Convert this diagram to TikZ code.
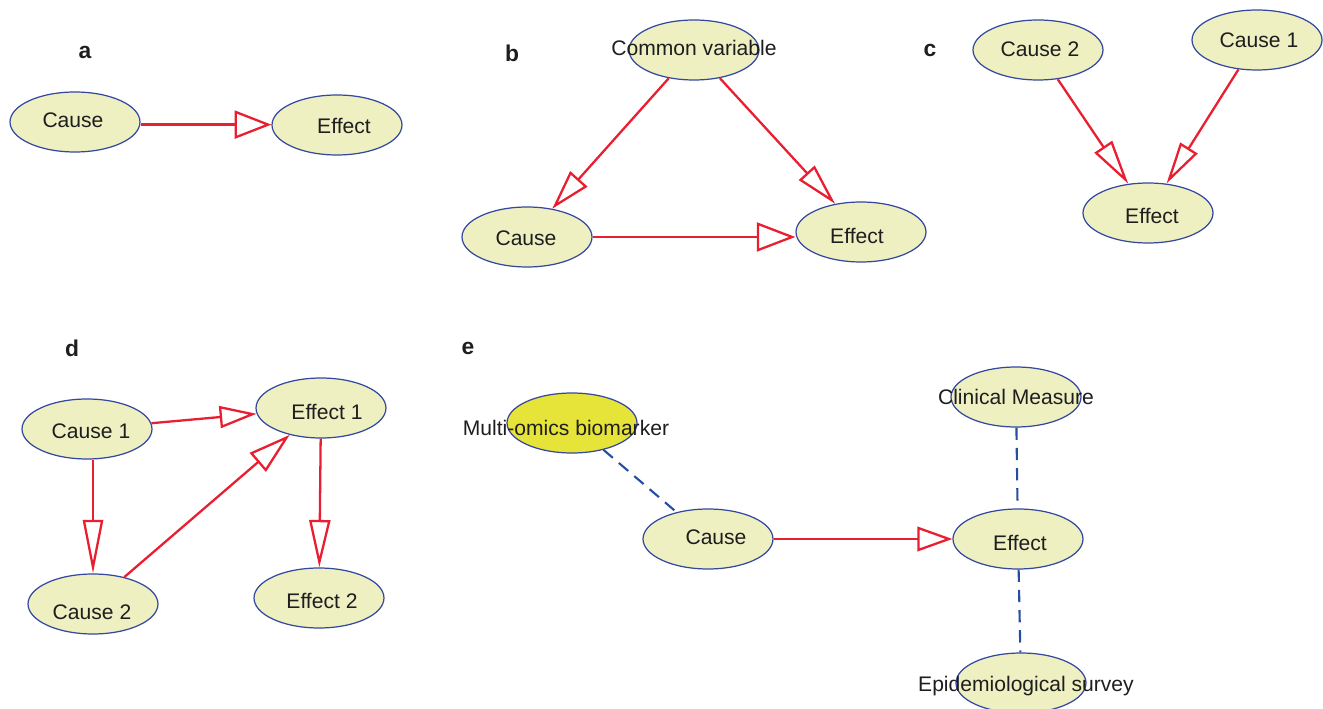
\documentclass[tikz,border=0pt]{standalone}
\usepackage{fontspec}
\setmainfont{Liberation Sans}
\usetikzlibrary{arrows.meta,shapes.geometric}
\definecolor{ellfill}{RGB}{238,240,194}
\definecolor{omfill}{RGB}{230,228,56}
\definecolor{ellline}{RGB}{52,72,160}
\definecolor{arrred}{RGB}{233,30,48}
\definecolor{dashblue}{RGB}{38,78,160}
\definecolor{txtcol}{RGB}{30,30,30}
\begin{document}
\begin{tikzpicture}[x=0.02cm,y=-0.02cm,
 ell/.style={ellipse,draw=ellline,fill=ellfill,line width=0.7pt,minimum width=2.6cm,minimum height=1.2cm,inner sep=0pt},
 lbl/.style={anchor=base,text=txtcol,font=\fontsize{12}{14}\selectfont,inner sep=0pt},
 panel/.style={text=txtcol,font=\fontsize{13}{15}\selectfont\bfseries,inner sep=0pt},
 rarr/.style 2 args={draw=arrred,line width=1.3pt,-{Triangle[open,length=#1,width=#2]}},
 dline/.style={draw=dashblue,line width=1.2pt,dash pattern=on 7pt off 4.5pt},
]
\useasboundingbox[fill=white] (0,0) rectangle (1323,709);

% panel a
\node[panel] (la) at (85,52) {a};
\node[ell] (aC) at (75,122) {};
\node[ell] (aE) at (337,125) {};
\node[lbl] (aCt) at (73,127.5) {Cause};
\node[lbl] (aEt) at (344,133.5) {Effect};
\draw[rarr={21pt}{16pt}] ([yshift=-1.5pt]aC.east) -- ([yshift=-1.5pt]aC.east -| aE.west);

% panel b
\node[panel] (lb) at (512,53) {b};
\node[ell] (bV) at (694,50) {};
\node[ell] (bC) at (527,237) {};
\node[ell] (bE) at (861,232) {};
\node[lbl] (bVt) at (694,55.5) {Common variable};
\node[lbl] (bCt) at (526,245.5) {Cause};
\node[lbl] (bEt) at (857,243.5) {Effect};
\draw[rarr={22.8pt}{13pt}] (bV) -- (bC);
\draw[rarr={24pt}{12pt}] (bV) -- (bE);
\draw[rarr={22pt}{16.5pt}] (bC.east) -- (bC.east -| bE.west);

% panel c
\node[panel] (lc) at (930,50) {c};
\node[ell] (cC2) at (1038,50) {};
\node[ell] (cC1) at (1257,40) {};
\node[ell] (cE) at (1148,213) {};
\node[lbl] (cC2t) at (1040,56.5) {Cause 2};
\node[lbl] (cC1t) at (1259,47.5) {Cause 1};
\node[lbl] (cEt) at (1152,223.5) {Effect};
\draw[rarr={25.5pt}{12pt}] (cC2) -- (cE);
\draw[rarr={24pt}{11.5pt}] (cC1) -- (cE);

% panel d
\node[panel] (ld) at (72,348) {d};
\node[ell] (dC1) at (87,429) {};
\node[ell] (dE1) at (321,408) {};
\node[ell] (dC2) at (93,604) {};
\node[ell] (dE2) at (319,598) {};
\node[lbl] (dC1t) at (91,438.5) {Cause 1};
\node[lbl] (dE1t) at (327,419.5) {Effect 1};
\node[lbl] (dC2t) at (92,619.5) {Cause 2};
\node[lbl] (dE2t) at (322,608.5) {Effect 2};
\draw[rarr={21pt}{12.5pt}] (dC1) -- (dE1);
\draw[rarr={30.5pt}{11.5pt}] (dC1.south -| dC2.north) -- (dC2.north);
\draw[rarr={24pt}{14pt}] (dC2) -- (dE1);
\draw[rarr={27pt}{12pt}] (dE1) -- (dE2);

% panel e
\node[panel] (le) at (468,348) {e};
\node[ell,fill=omfill] (eM) at (572,423) {};
\node[ell] (eC) at (708,539) {};
\node[ell] (eE) at (1018,539) {};
\node[ell] (eK) at (1016,397) {};
\node[ell] (eS) at (1021,683) {};
\node[lbl] (eMt) at (566,435.5) {Multi-omics biomarker};
\node[lbl] (eCt) at (716,544.5) {Cause};
\node[lbl] (eEt) at (1020,550.5) {Effect};
\node[lbl] (eKt) at (1016,404.5) {Clinical Measure};
\node[lbl] (eSt) at (1026,691.5) {Epidemiological survey};
\draw[rarr={20pt}{14pt}] (eC) -- (eE);
\draw[dline] (eM) -- (eC);
\draw[dline] (eK) -- (eE);
\draw[dline] (eE) -- (eS);
\end{tikzpicture}
\end{document}
